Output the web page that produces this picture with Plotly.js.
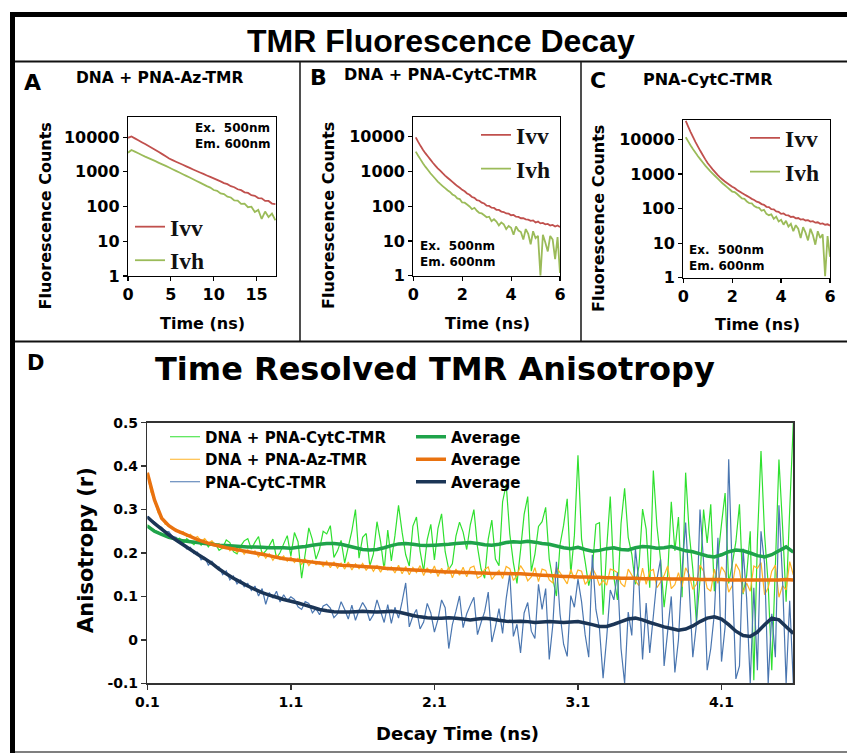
<!DOCTYPE html>
<html><head><meta charset="utf-8">
<script src="https://cdn.plot.ly/plotly-3.0.1.min.js"></script>
<style>html,body{margin:0;padding:0;background:#fff;}#chart{width:847px;height:753px;}</style>
</head><body><div id="chart"></div>
<script>
// ---------- DATA ----------
// Panel A: DNA + PNA-Az-TMR (time 0..17.2 ns, step 0.4)
const ivvA = [9550,10470,9230,8130,7160,6310,5550,4880,4270,3720,
  3240,2820,2420,2180,1960,1770,1600,1440,1300,1170,
  1060,960,870,787,713,646,585,530,472,441,
  386,361,315,297,258,247,212,205,176,172,
  146,145,122,118];
const ivhA = [3550,4270,3820,3430,3070,2750,2490,2250,2030,1820,
  1640,1480,1330,1190,1070,955,855,766,686,614,
  547,489,436,389,352,300,283,240,228,193,
  183,150,149,120,121,96,99,70,80,44,
  72,50,63,40];
// Panel B: DNA + PNA-CytC-TMR (time 0.1..6.0 ns, step 0.1)
const ivvB = [9550,7080,5370,4170,3310,2690,2190,1780,1480,1230,
  1050,890,760,660,575,500,437,380,339,295,
  268,232,214,184,174,150,144,126,120,104,
  102,91,89,79,78,70,68,62,61,55,
  56,50,49,45,45,42,41,38,39,34,
  36,32,33,30,31,28,29,26,28,25];
const ivhB = [3720,2820,2190,1700,1350,1100,890,740,617,513,
  437,380,331,288,258,218,200,168,160,128,
  126,112,98,82,90,74,64,62,55,48,
  50,37,42,36,28,34,30,22,27,24,
  15,26,20,18,11,22,16,8,19,12,
  14,1,15,9,5,14,11,3,13,1.2];
// Panel C: PNA-CytC-TMR (time 0.1..6.0 ns, step 0.1)
const ivvC = [33900,23400,16200,11500,8300,6170,4570,3470,2630,2040,
  1660,1350,1120,933,794,692,603,537,479,427,
  390,345,312,280,255,232,210,190,176,158,
  150,134,128,112,110,96,94,82,80,70,
  72,64,63,57,58,52,53,48,49,45,
  46,42,43,39,40,36,37,34,35,32];
const ivhC = [11500,8710,6610,5130,4070,3240,2630,2140,1740,1450,
  1200,1020,871,741,631,537,468,407,355,309,
  300,262,226,196,190,160,143,140,118,108,
  104,86,92,70,64,68,50,58,42,47,
  34,44,30,36,22,33,26,14,29,20,
  12,26,17,9,22,14,18,1.1,16,4];
// Panel D: anisotropy x1000 (raw: 0.1..4.6 ns step 0.025)
const rawCytC = [265,258,252,249,241,244,236,238,231,234,
  222,233,226,219,230,218,228,214,225,221,
  206,212,230,224,203,198,216,228,233,209,
  225,238,196,205,217,232,188,201,221,240,
  193,247,226,142,198,258,231,186,209,250,
  244,263,190,205,229,177,214,251,300,188,
  236,245,170,198,272,226,161,253,182,240,
  310,248,196,170,262,283,205,158,231,266,
  184,257,290,203,162,175,239,271,248,208,
  265,300,214,163,142,232,276,186,171,318,
  358,244,178,130,206,289,330,158,197,261,
  272,305,186,139,101,219,264,325,152,240,
  425,232,180,125,163,266,270,58,211,330,
  144,92,268,349,236,197,128,170,301,255,
  120,390,262,186,75,150,318,205,283,98,
  385,246,163,40,138,300,223,312,112,190,
  267,338,130,175,226,312,105,148,250,-93,
  230,435,242,128,-70,170,415,262,88,300,
  500];
const rawAz = [383,340,322,292,283,266,265,255,255,246,
  249,238,243,234,238,227,233,223,228,218,
  222,210,219,205,214,201,211,197,207,199,
  205,191,202,188,198,183,196,185,193,181,
  191,178,188,174,186,171,183,173,180,169,
  181,166,180,165,177,163,179,161,175,164,
  176,160,173,158,171,156,170,161,168,154,
  172,152,169,150,167,155,171,148,166,153,
  170,146,165,151,168,143,163,149,167,145,
  166,170,142,147,162,168,139,150,160,141,
  169,164,137,148,171,158,136,145,166,134,
  163,160,138,131,167,155,142,129,162,140,
  161,158,128,139,166,150,125,137,126,163,
  160,155,130,122,163,149,136,125,165,128,
  158,162,120,133,148,170,118,127,155,122,
  166,150,116,128,172,158,119,112,163,130,
  168,155,110,125,175,160,108,131,112,170,
  165,178,104,120,158,172,98,125,115,180,
  150];
const rawFree = [285,276,272,262,259,248,249,238,236,226,
  222,209,213,199,202,184,190,172,181,167,
  168,150,159,138,147,129,138,122,130,114,
  124,101,118,82,109,96,112,87,104,90,
  99,93,76,70,88,84,62,72,58,78,
  82,73,51,60,88,70,48,80,45,68,
  86,72,44,58,92,66,40,81,38,75,
  50,88,131,30,55,70,25,41,84,62,
  18,47,92,74,-20,35,66,101,28,60,
  80,98,12,40,65,110,-5,30,72,15,
  95,152,8,36,-30,62,86,20,3,128,
  70,118,-45,35,180,60,-10,-38,102,75,
  140,88,12,-40,196,70,25,-88,5,115,
  92,155,-20,-100,64,10,210,130,-45,85,
  -30,55,140,185,-60,20,100,-75,0,160,
  270,120,-40,35,300,180,-70,-20,60,235,
  -50,30,416,150,-90,-60,210,95,-100,120,
  -70,250,175,-100,60,-40,310,140,-100,90,
  -100];
// averages x1000 (0.1..4.6 ns step 0.05)
const avgCytC = [262,250,243,236,232,228,226,224,222,220,
  218,217,216,215,214,214,213,212,212,212,
  211,213,215,218,220,222,222,220,216,212,
  208,207,208,212,217,221,222,220,218,217,
  218,219,220,222,223,224,222,219,218,220,
  224,226,225,227,225,222,220,216,212,210,
  213,208,204,206,210,212,208,207,212,215,
  214,211,212,215,210,205,203,198,193,191,
  196,203,207,205,200,194,191,196,205,214,
  202];
const avgAz = [385,322,280,263,252,245,238,231,225,220,
  216,212,209,206,203,200,197,194,190,187,
  185,183,181,179,177,175,174,172,171,170,
  169,168,167,165,164,163,162,161,160,159,
  158,157,156,156,155,155,154,154,153,153,
  153,152,152,151,150,149,148,147,146,146,
  145,145,144,144,143,143,142,142,142,141,
  141,141,141,140,140,140,140,139,139,139,
  139,138,138,138,138,138,138,138,138,139,
  138];
const avgFree = [283,268,255,242,230,219,208,197,187,176,
  163,152,142,133,124,116,109,103,98,93,
  89,85,80,75,70,67,65,64,64,65,
  66,65,64,65,66,64,60,56,53,51,
  50,50,51,50,48,46,48,50,48,45,
  43,42,43,42,40,41,42,41,40,41,
  42,39,35,31,31,36,42,48,50,46,
  40,35,30,26,22,25,32,42,50,53,
  48,35,20,10,8,18,35,50,46,30,
  15];
const decayTicksY = [1,10,100,1000,10000];
const decayTickText = ['1','10','100','1000','10000'];
const anisTicks = [-0.1,0,0.1,0.2,0.3,0.4,0.5];
const anisTickText = ['-0.1','0','0.1','0.2','0.3','0.4','0.5'];
const anisTimeTicks = [0.1,1.1,2.1,3.1,4.1];

// ---------- HELPERS ----------
function grid(start, step, n){ const a=[]; for(let i=0;i<n;i++) a.push(Math.round((start+step*i)*1000)/1000); return a; }
const milli = arr => arr.map(v=>v/1000);
const tA = grid(0,0.4,ivvA.length);
const tBC = grid(0.1,0.1,ivvB.length);
const tRaw = grid(0.1,0.025,rawCytC.length);
const tAvg = grid(0.1,0.05,avgCytC.length);

const W=847,H=753;
const fx=p=>p/W, fy=p=>1-p/H;

const C_IVV='#c0504d', C_IVH='#9bbb59';
const dj = (s,w)=>({family:'DejaVu Sans',size:s,color:'#000',weight:w===undefined?700:w});

function dec(x,y,name,color,xa,ya,leg){
  return {type:'scatter',mode:'lines',x:x,y:y,name:name,xaxis:xa,yaxis:ya,legend:leg,
    line:{color:color,width:1.8,simplify:false},hoverinfo:'skip'};
}
function ani(y,name,color,w,t){
  return {type:'scatter',mode:'lines',x:t,y:milli(y),name:name,xaxis:'x4',yaxis:'y4',
    legend: w>2?'legend2':'legend',line:{color:color,width:w,simplify:false},hoverinfo:'skip'};
}

const data = [
  dec(tA,ivvA,'Ivv',C_IVV,'x','y','legend3'),
  dec(tA,ivhA,'Ivh',C_IVH,'x','y','legend3'),
  dec(tBC,ivvB,'Ivv',C_IVV,'x2','y2','legend4'),
  dec(tBC,ivhB,'Ivh',C_IVH,'x2','y2','legend4'),
  dec(tBC,ivvC,'Ivv',C_IVV,'x3','y3','legend5'),
  dec(tBC,ivhC,'Ivh',C_IVH,'x3','y3','legend5'),
  ani(rawCytC,'DNA + PNA-CytC-TMR','#2fe02f',1.2,tRaw),
  ani(rawAz,'DNA + PNA-Az-TMR','#ffb326',1.2,tRaw),
  ani(rawFree,'PNA-CytC-TMR','#4a76b0',1.2,tRaw),
  ani(avgCytC,'Average','#1fa34a',3.5,tAvg),
  ani(avgAz,'Average','#e9720f',3.5,tAvg),
  ani(avgFree,'Average','#1b3556',3.5,tAvg)
];

function xDec(l,r,range,ticks,anchor){
  return {domain:[fx(l),fx(r)],range:range,tickvals:ticks,ticks:'outside',ticklen:4,tickwidth:1.2,
    tickcolor:'#000',showline:true,linecolor:'#000',linewidth:1.2,mirror:true,showgrid:false,
    zeroline:false,tickfont:dj(16),anchor:anchor,fixedrange:true};
}
function yDec(t,b,top,anchor){
  return {domain:[fy(b),fy(t)],type:'log',range:[0,top],tickvals:decayTicksY,ticktext:decayTickText,
    ticks:'outside',ticklen:4,tickwidth:1.2,tickcolor:'#000',showline:true,linecolor:'#000',linewidth:1.2,
    mirror:true,showgrid:false,zeroline:false,tickfont:dj(16),anchor:anchor,fixedrange:true};
}

function ann(text,x,y,font,opt){
  return Object.assign({text:text,x:fx(x),y:fy(y),xref:'paper',yref:'paper',showarrow:false,
    xanchor:'center',yanchor:'middle',font:font},opt||{});
}
const serif = {family:'Liberation Serif',size:23.5,color:'#111',weight:700};
const annotations = [
  ann('TMR Fluorescence Decay',440.5,41,{family:'Liberation Sans',size:32,color:'#000',weight:700}),
  ann('A',22,82,dj(22),{xanchor:'left'}),
  ann('DNA + PNA-Az-TMR',74,77.5,dj(15.5),{xanchor:'left'}),
  ann('B',308,77.5,dj(22),{xanchor:'left'}),
  ann('DNA + PNA-CytC-TMR',342,74,dj(16),{xanchor:'left'}),
  ann('C',588,80,dj(22),{xanchor:'left'}),
  ann('PNA-CytC-TMR',641,79,dj(16),{xanchor:'left'}),
  ann('Fluorescence Counts',45,216.5,dj(16),{textangle:-90}),
  ann('Fluorescence Counts',329,216,dj(16),{textangle:-90}),
  ann('Fluorescence Counts',599,219,dj(16),{textangle:-90}),
  ann('Time (ns)',202,323.5,dj(16)),
  ann('Time (ns)',487.5,323.5,dj(16)),
  ann('Time (ns)',757.5,324.5,dj(16)),
  ann('Ex.  500nm<br>Em. 600nm',193,136,dj(12),{xanchor:'left',align:'left'}),
  ann('Ex.  500nm<br>Em. 600nm',418,254.5,dj(12),{xanchor:'left',align:'left'}),
  ann('Ex.  500nm<br>Em. 600nm',687,258,dj(12),{xanchor:'left',align:'left'}),
  ann('D',25,362.5,dj(21),{xanchor:'left'}),
  ann('Time Resolved TMR Anisotropy',434.5,369,dj(32)),
  ann('Anisotropy (r)',86,550,dj(21),{textangle:-90}),
  ann('Decay Time (ns)',457.5,733,dj(18))
];

function rect(x0,y0,x1,y1){return {type:'rect',xref:'paper',yref:'paper',x0:fx(x0),x1:fx(x1),y0:fy(y0),y1:fy(y1),fillcolor:'#000',line:{width:0},layer:'above'};}
function hline(y,x0,x1,w,c){return {type:'line',xref:'paper',yref:'paper',x0:fx(x0),x1:fx(x1),y0:fy(y),y1:fy(y),line:{color:c,width:w},layer:'above'};}
function vline(x,y0,y1,w,c){return {type:'line',xref:'paper',yref:'paper',x0:fx(x),x1:fx(x),y0:fy(y0),y1:fy(y1),line:{color:c,width:w},layer:'above'};}
const shapes = [
  rect(10,12,15,753),
  rect(10,12,847,17),
  hline(61.5,15,847,2,'#111'),
  vline(300,62,341,1.6,'#222'),
  vline(581,62,341,1.6,'#222'),
  hline(341.5,15,847,2,'#111'),
  hline(752,15,847,1.5,'#555')
];

const legBase = {xanchor:'left',yanchor:'top',bgcolor:'rgba(0,0,0,0)',borderwidth:0,itemwidth:30,tracegroupgap:0,itemclick:false,itemdoubleclick:false};
const layout = {
  width:W,height:H,margin:{l:0,r:0,t:0,b:0},paper_bgcolor:'#fff',plot_bgcolor:'#fff',
  showlegend:true,
  xaxis:xDec(128,276,[0,17.27],[0,5,10,15],'y'),
  yaxis:yDec(117,276,4.58,'x'),
  xaxis2:xDec(413.3,560,[0,6],[0,2,4,6],'y2'),
  yaxis2:yDec(116.7,275.7,4.576,'x2'),
  xaxis3:xDec(683.3,830,[0,6],[0,2,4,6],'y3'),
  yaxis3:yDec(120,277.7,4.558,'x3'),
  xaxis4:{domain:[fx(147.3),fx(793.3)],range:[0.1,4.6],tickvals:anisTimeTicks,ticktext:anisTimeTicks.map(v=>v.toFixed(1)),
    ticks:'outside',ticklen:5,tickwidth:1.5,tickcolor:'#333',showline:true,linecolor:'#333',linewidth:1.5,mirror:true,
    showgrid:false,zeroline:false,tickfont:dj(14),anchor:'y4',fixedrange:true},
  yaxis4:{domain:[fy(683.3),fy(422.7)],range:[-0.1,0.5],tickvals:anisTicks,ticktext:anisTickText,
    ticks:'outside',ticklen:5,tickwidth:1.5,tickcolor:'#333',showline:true,linecolor:'#333',linewidth:1.5,mirror:true,
    showgrid:false,zeroline:false,tickfont:dj(14),anchor:'x4',fixedrange:true},
  legend:Object.assign({},legBase,{x:fx(165),y:fy(420.5),font:dj(15)}),
  legend2:Object.assign({},legBase,{x:fx(411),y:fy(420.5),font:dj(15)}),
  legend3:Object.assign({},legBase,{x:fx(130),y:fy(204.9),font:serif}),
  legend4:Object.assign({},legBase,{x:fx(476),y:fy(113.2),font:serif}),
  legend5:Object.assign({},legBase,{x:fx(745),y:fy(116.2),font:serif}),
  annotations:annotations,
  shapes:shapes
};
Plotly.newPlot('chart',data,layout,{staticPlot:true,displayModeBar:false});
</script>
</body></html>
